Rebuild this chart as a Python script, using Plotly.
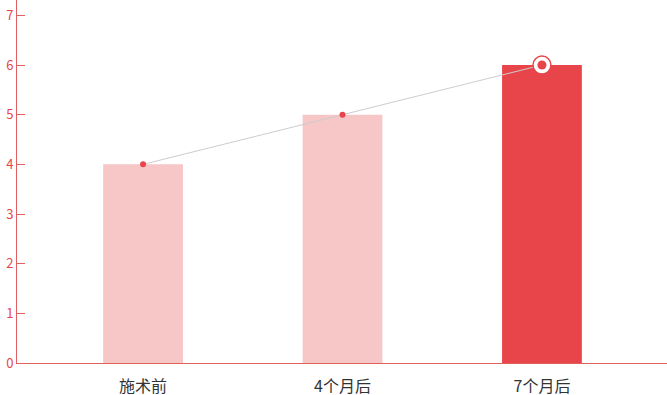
import plotly.graph_objects as go

categories = ["施术前", "4个月后", "7个月后"]
values = [4, 5, 6]
bar_colors = ["#f7c6c7", "#f7c6c7", "#e8454a"]
y_ticks = [0, 1, 2, 3, 4, 5, 6, 7]

xs = list(range(len(categories)))
red = "#e8454a"

fig = go.Figure()
fig.add_trace(go.Bar(x=xs, y=values, marker=dict(color=bar_colors, line=dict(width=0)),
                     width=0.40, hoverinfo="skip"))
fig.add_trace(go.Scatter(x=xs, y=values, mode="lines", line=dict(color="#cccccc", width=1),
                         hoverinfo="skip"))
fig.add_trace(go.Scatter(x=xs[:-1], y=values[:-1], mode="markers",
                         marker=dict(color=red, size=6), hoverinfo="skip"))
fig.add_trace(go.Scatter(x=xs[-1:], y=values[-1:], mode="markers",
                         marker=dict(color="white", size=18, line=dict(color=red, width=1.5)),
                         hoverinfo="skip"))
fig.add_trace(go.Scatter(x=xs[-1:], y=values[-1:], mode="markers",
                         marker=dict(color=red, size=9), hoverinfo="skip"))

fig.update_layout(
    width=667, height=395,
    margin=dict(l=17, r=0, t=0, b=32),
    paper_bgcolor="white", plot_bgcolor="white",
    showlegend=False,
    font=dict(family="Noto Sans CJK SC, Noto Sans, sans-serif"),
)
fig.update_xaxes(
    range=[-0.632, 2.627], tickvals=xs, ticktext=categories,
    showgrid=False, zeroline=False, showline=True, linecolor="#e06060", linewidth=1,
    ticks="", tickfont=dict(size=16, color="#333333"), ticklabelstandoff=9,
    automargin=False,
)
fig.update_yaxes(
    range=[0, 7.31], tickvals=y_ticks, showgrid=False, zeroline=False,
    showline=True, linecolor="#e06060", linewidth=1,
    ticks="inside", ticklen=8, tickcolor="#e06060",
    tickfont=dict(size=13, color=red), automargin=False,
)

fig.write_html("out.html")
